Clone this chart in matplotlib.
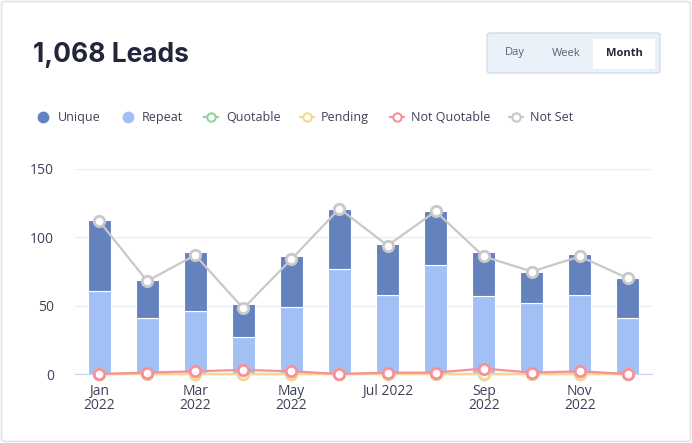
import matplotlib.pyplot as plt
from matplotlib.patches import FancyBboxPatch
from matplotlib.lines import Line2D

# ---- données ----
months = ["Jan", "Feb", "Mar", "Apr", "May", "Jun",
          "Jul", "Aug", "Sep", "Oct", "Nov", "Dec"]
repeat = [61, 41, 46, 27, 49, 77, 58, 80, 57, 52, 58, 41]
unique = [52, 28, 43, 24, 37, 44, 37, 39, 32, 23, 30, 29]
quotable = [0, 0, 0, 0, 0, 0, 0, 0, 0, 0, 0, 0]
pending = [0, 0, 0, 0, 0, 0, 0, 0, 0, 0, 0, 0]
not_quotable = [0, 1, 2, 3, 2, 0, 1, 1, 4, 1, 2, 0]
not_set = [112, 68, 87, 48, 84, 121, 94, 119, 86, 75, 86, 70]
tick_pos = [0, 2, 4, 6, 8, 10]
tick_labels = ["Jan\n2022", "Mar\n2022", "May\n2022", "Jul 2022", "Sep\n2022", "Nov\n2022"]
yticks = [0, 50, 100, 150]

C_UNIQUE = "#6482bd"
C_REPEAT = "#a3c0f5"
C_QUOT = "#90d4a0"
C_PEND = "#f8d68c"
C_NOTQ = "#f7909b"
C_NOTSET = "#c8c8c8"
TXT = "#3d4258"

plt.rcParams['font.family'] = ['Open Sans', 'DejaVu Sans']

fig = plt.figure(figsize=(6.92, 4.43), dpi=100)
W, H = 692, 443

# cadre de la carte
card = FancyBboxPatch((1.5 / W, 1.5 / H), (W - 3) / W, (H - 3) / H,
                      boxstyle="round,pad=0,rounding_size=0.006",
                      transform=fig.transFigure, facecolor="white",
                      edgecolor="#dfe3ea", lw=1.2, zorder=-10)
fig.patches.append(card)

# titre
fig.text(33 / W, 1 - 55 / H, "1,068 Leads", fontsize=19, fontweight="bold",
         color="#23263b", va="center", ha="left", family=["Inter", "DejaVu Sans"])

# boutons Day / Week / Month
btn = FancyBboxPatch((487 / W, 1 - 73 / H), 173 / W, 40 / H,
                     boxstyle="round,pad=0,rounding_size=0.005",
                     transform=fig.transFigure, facecolor="#eaf1f8",
                     edgecolor="#d3dde9", lw=1, zorder=1)
fig.patches.append(btn)
sel = FancyBboxPatch((593 / W, 1 - 69 / H), 62 / W, 30 / H,
                     boxstyle="round,pad=0,rounding_size=0.003",
                     transform=fig.transFigure, facecolor="white",
                     edgecolor="none", zorder=2)
fig.patches.append(sel)
fig.text(515 / W, 1 - 53 / H, "Day", fontsize=8, color="#5a6077", ha="center", va="center")
fig.text(566 / W, 1 - 53 / H, "Week", fontsize=8, color="#5a6077", ha="center", va="center")
fig.text(624 / W, 1 - 54 / H, "Month", fontsize=8, color="#23263b", ha="center", va="center",
         fontweight="bold")

# légende
ly = 1 - 117 / H
leg_items = [
    (43, 58, "Unique", C_UNIQUE, "dot"),
    (128, 142, "Repeat", C_REPEAT, "dot"),
    (211, 226, "Quotable", C_QUOT, "line"),
    (307, 321, "Pending", C_PEND, "line"),
    (397, 411, "Not Quotable", C_NOTQ, "line"),
    (516, 530, "Not Set", C_NOTSET, "line"),
]
for mx, tx, label, col, kind in leg_items:
    if kind == "dot":
        fig.add_artist(Line2D([mx / W], [ly], marker="o", ms=7.5, color=col,
                              mec=col, transform=fig.transFigure))
    else:
        fig.add_artist(Line2D([(mx - 7) / W, (mx + 7) / W], [ly, ly], color=col, lw=1.5,
                              transform=fig.transFigure))
        fig.add_artist(Line2D([mx / W], [ly], marker="o", ms=6, mfc="white", mec=col,
                              mew=1.5, transform=fig.transFigure))
    fig.text(tx / W, ly, label, fontsize=9, color=TXT, ha="left", va="center")

# zone du graphique
ax = fig.add_axes([75 / W, 1 - 374 / H, (652 - 75) / W, (374 - 169) / H])
ax.set_facecolor("none")
x = list(range(len(months)))
ax.bar(x, repeat, width=0.48, color=C_REPEAT, edgecolor="white", lw=0.8, zorder=2)
ax.bar(x, unique, bottom=repeat, width=0.48, color=C_UNIQUE, edgecolor="white",
       lw=0.8, zorder=2)

for vals, col, z in [(quotable, C_QUOT, 3), (pending, C_PEND, 4),
                     (not_quotable, C_NOTQ, 5), (not_set, C_NOTSET, 6)]:
    ax.plot(x, vals, color=col, lw=1.6, marker="o", ms=7.5, mfc="white", mec=col,
            mew=2, zorder=z, clip_on=False)

ax.set_xlim(-0.5, 11.5)
ax.set_ylim(0, 150)
ax.set_yticks(yticks)
ax.set_xticks(tick_pos)
ax.set_xticklabels(tick_labels)
ax.grid(axis="y", color="#e8eff2", lw=1, zorder=0)
ax.set_axisbelow(True)
for s in ["top", "right", "left"]:
    ax.spines[s].set_visible(False)
ax.spines["bottom"].set_color("#ccd6eb")
ax.spines["bottom"].set_zorder(1)
ax.tick_params(axis="y", length=0, pad=15, labelsize=10, labelcolor=TXT)
ax.tick_params(axis="x", length=6, color="#ccd6eb", pad=1, labelsize=10, labelcolor=TXT)
for lbl in ax.get_xticklabels():
    lbl.set_linespacing(0.95)

fig.savefig("out.png", dpi=100)
